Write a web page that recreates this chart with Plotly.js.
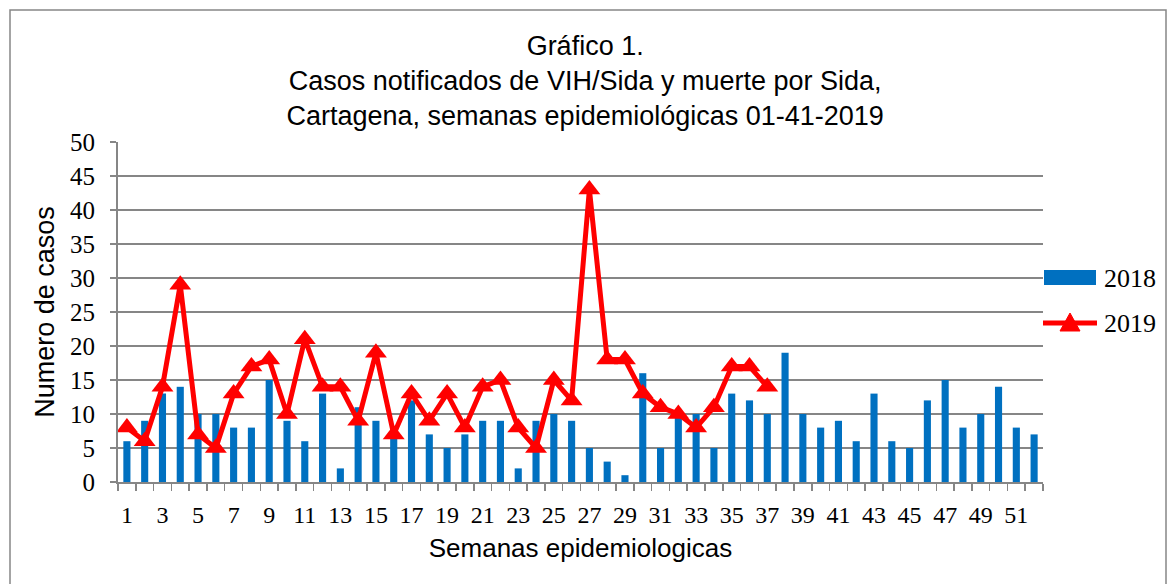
<!DOCTYPE html>
<html>
<head>
<meta charset="utf-8">
<script src="https://cdn.plot.ly/plotly-3.0.1.min.js"></script>
<style>
  html, body { margin: 0; padding: 0; background: #ffffff; }
  #chart { width: 1175px; height: 584px; }
</style>
</head>
<body>
<div id="chart"></div>
<script>
// Semanas epidemiológicas
const weeks2018 = Array.from({length: 52}, (_, i) => i + 1);
const weeks2019 = Array.from({length: 37}, (_, i) => i + 1);

// Casos 2018 (barras)
const cases2018 = [6, 9, 13, 14, 10, 10, 8, 8, 15, 9,
                   6, 13, 2, 11, 9, 7, 12, 7, 5, 7,
                   9, 9, 2, 9, 10, 9, 5, 3, 1, 16,
                   5, 10, 10, 5, 13, 12, 10, 19, 10, 8,
                   9, 6, 13, 6, 5, 12, 15, 8, 10, 14,
                   8, 7];

// Casos 2019 (línea)
const cases2019 = [8, 6, 14, 29, 7, 5, 13, 17, 18, 10,
                   21, 14, 14, 9, 19, 7, 13, 9, 13, 8,
                   14, 15, 8, 5, 15, 12, 43, 18, 18, 13,
                   11, 10, 8, 11, 17, 17, 14];

const seriesNames = ['2018', '2019'];
const xTickVals = [1, 3, 5, 7, 9, 11, 13, 15, 17, 19, 21, 23, 25, 27, 29, 31, 33, 35, 37, 39, 41, 43, 45, 47, 49, 51];
const yTickVals = [0, 5, 10, 15, 20, 25, 30, 35, 40, 45, 50];

const serif = '"Liberation Serif", "DejaVu Serif", serif';
const sans = '"Liberation Sans", Arial, sans-serif';
const BLUE = '#0070C0';
const RED = '#FF0000';

const traces = [
  {
    type: 'bar',
    name: seriesNames[0],
    x: weeks2018,
    y: cases2018,
    width: 0.4,
    marker: {color: BLUE},
    showlegend: false
  },
  {
    type: 'scatter',
    mode: 'lines+markers',
    name: seriesNames[1],
    x: weeks2019,
    y: cases2019,
    line: {color: RED, width: 5},
    marker: {symbol: 'triangle-up', size: 19, color: RED},
    showlegend: false
  }
];

// plot-area pixel geometry helpers for the hand-made legend / frame
const L = 118, R = 1043, T = 142, B = 482;
const px = v => (v - L) / (R - L);
const py = v => (B - v) / (B - T);

const layout = {
  width: 1175,
  height: 584,
  margin: {l: L, r: 1175 - R, t: T, b: 584 - B},
  paper_bgcolor: '#ffffff',
  plot_bgcolor: '#ffffff',
  showlegend: false,
  title: {
    text: 'Gráfico 1.<br>Casos notificados de VIH/Sida y muerte por Sida,<br>Cartagena, semanas epidemiológicas 01-41-2019',
    font: {family: sans, size: 27, color: '#000000'},
    x: 0.498,
    xanchor: 'center',
    y: 0.906,
    yanchor: 'top'
  },
  xaxis: {
    range: [0.5, 52.5],
    tickmode: 'array',
    tickvals: xTickVals,
    ticktext: xTickVals.map(String),
    ticks: '',
    tickfont: {family: serif, size: 24, color: '#000000'},
    ticklabelstandoff: 10,
    showgrid: false,
    zeroline: false,
    showline: true,
    linecolor: '#868686',
    linewidth: 2,
    minor: {
      tickmode: 'linear',
      tick0: 0.5,
      dtick: 1,
      ticks: 'outside',
      ticklen: 7,
      tickwidth: 1.5,
      tickcolor: '#868686',
      showgrid: false
    },
    title: {
      text: 'Semanas epidemiologicas',
      font: {family: sans, size: 26, color: '#000000'},
      standoff: 12
    },
    fixedrange: true
  },
  yaxis: {
    range: [0, 50],
    tickmode: 'array',
    tickvals: yTickVals,
    ticks: 'outside',
    ticklen: 6,
    tickwidth: 1.5,
    tickcolor: '#868686',
    tickfont: {family: serif, size: 25, color: '#000000'},
    ticklabelstandoff: 10,
    showgrid: true,
    gridcolor: '#868686',
    gridwidth: 2,
    zeroline: false,
    showline: true,
    linecolor: '#868686',
    linewidth: 2,
    title: {
      text: 'Numero de casos',
      font: {family: sans, size: 27, color: '#000000'},
      standoff: 8
    },
    fixedrange: true
  },
  shapes: [
    // outer frame
    {
      type: 'rect', xref: 'paper', yref: 'paper',
      x0: px(10), x1: px(1166), y0: py(600), y1: py(10),
      line: {color: '#868686', width: 1.5},
      fillcolor: 'rgba(0,0,0,0)', layer: 'below'
    },
    // legend: 2018 swatch
    {
      type: 'rect', xref: 'paper', yref: 'paper',
      x0: px(1044), x1: px(1096), y0: py(285), y1: py(270),
      line: {width: 0}, fillcolor: BLUE
    },
    // legend: 2019 line
    {
      type: 'line', xref: 'paper', yref: 'paper',
      x0: px(1043), x1: px(1097), y0: py(323), y1: py(323),
      line: {color: RED, width: 5}
    },
    // legend: 2019 triangle
    {
      type: 'path', xref: 'paper', yref: 'paper',
      path: 'M ' + px(1070) + ' ' + py(313) + ' L ' + px(1080) + ' ' + py(331) +
            ' L ' + px(1060) + ' ' + py(331) + ' Z',
      line: {color: RED, width: 1}, fillcolor: RED
    }
  ],
  annotations: [
    {
      xref: 'paper', yref: 'paper', x: px(1102), y: py(278),
      xanchor: 'left', yanchor: 'middle', showarrow: false,
      text: seriesNames[0], font: {family: serif, size: 26, color: '#000000'}
    },
    {
      xref: 'paper', yref: 'paper', x: px(1102), y: py(323),
      xanchor: 'left', yanchor: 'middle', showarrow: false,
      text: seriesNames[1], font: {family: serif, size: 26, color: '#000000'}
    }
  ]
};

Plotly.newPlot('chart', traces, layout, {displayModeBar: false, staticPlot: true});
</script>
</body>
</html>
